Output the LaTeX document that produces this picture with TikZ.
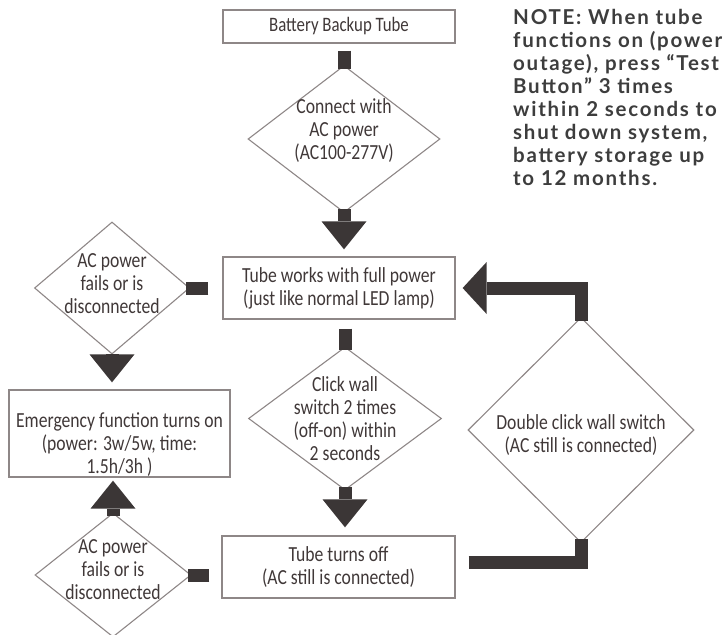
\documentclass[tikz,border=0pt]{standalone}
\usepackage{fontspec}
\usetikzlibrary{shapes.geometric}
\usetikzlibrary{arrows.meta}

\newfontfamily\flowfont[FakeStretch=0.82]{Carlito}
\newfontfamily\notefont[LetterSpace=8.5]{Lato}

\definecolor{boxline}{HTML}{8E8787}
\definecolor{barcol}{HTML}{3B3636}
\definecolor{txtcol}{HTML}{403838}
\definecolor{notecol}{HTML}{3D3D3D}

\begin{document}
\begin{tikzpicture}[x=1pt,y=-1pt,
 box/.style={draw=boxline, line width=1.3pt, rectangle, inner sep=0pt, align=center, text=txtcol, font=\flowfont\fontsize{21.5}{23}\selectfont},
 dia/.style={draw=boxline, line width=1.1pt, diamond, inner sep=0pt},
 txt/.style={align=center, text=txtcol, inner sep=0pt, font=\flowfont\fontsize{21.5}{23}\selectfont},
 bar/.style={draw=barcol, line width=13pt},
 flow/.style={bar, -{Triangle[width=45pt,length=28pt,line width=0pt]}},
 sideflow/.style={bar, -{Triangle[width=52pt,length=24pt,line width=0pt]}}]

\useasboundingbox (0,0) rectangle (724,635);

\node[box, minimum width=232pt, minimum height=33pt, font=\flowfont\fontsize{20.5}{22}\selectfont] (tube) at (339,26.5) {Battery Backup Tube};

\node[dia, minimum width=192pt, minimum height=147pt, label={[txt,yshift=8pt]center:{Connect with\\AC power\\(AC100-277V)}}] (acin) at (344,139) {};

\node[box, minimum width=232pt, minimum height=62pt] (works) at (339,288) {Tube works with full power\\(just like normal LED lamp)};

\node[dia, minimum width=155pt, minimum height=132pt, label={[txt,yshift=4pt]center:{AC power\\fails or is\\disconnected}}] (fail1) at (112,288) {};

\node[box, minimum width=221pt, minimum height=87pt, label={[txt,yshift=-11.5pt]center:{Emergency function turns on\\(power: 3w/5w, time:\\1.5h/3h )}}] (emerg) at (119.5,433.5) {};

\node[dia, minimum width=193pt, minimum height=143pt, label={[txt]center:{Click wall\\switch 2 times\\(off-on) within\\2 seconds}}] (click) at (345,418.5) {};

\node[box, minimum width=233pt, minimum height=62pt] (off) at (338.5,567) {Tube turns off\\(AC still is connected)};

\node[dia, minimum width=156pt, minimum height=124pt, label={[txt,yshift=5pt]center:{AC power\\fails or is\\disconnected}}] (fail2) at (113,575) {};

\node[dia, minimum width=226pt, minimum height=225pt, label={[txt,yshift=-5pt]center:{Double click wall switch\\(AC still is connected)}}] (dbl) at (581,430) {};

\node[anchor=north west, align=left, inner sep=0pt, text=notecol, font=\notefont\bfseries\fontsize{20.5}{23}\selectfont] (note) at (513,9) {NOTE: When tube\\functions on (power\\outage), press “Test\\Button” 3 times\\within 2 seconds to\\shut down system,\\battery storage up\\to 12 months.};

\draw[bar, shorten <=7pt, shorten >=-4pt] (tube.south -| acin.north) -- (acin.north);

\draw[flow, shorten <=-4pt, shorten >=7pt] (acin.south) -- (acin.south |- works.north);

\draw[bar, shorten <=14pt, shorten >=-4pt] (works.west) -- (fail1.east);

\draw[flow, shorten <=-4pt, shorten >=7pt] (fail1.south) -- (fail1.south |- emerg.north);

\draw[flow, shorten <=-4pt, shorten >=3pt] (fail2.north) -- (fail2.north |- emerg.south);

\draw[bar, shorten <=12pt, shorten >=-4pt] (fail2.east -| off.west) -- (fail2.east);

\draw[bar, shorten <=9pt, shorten >=-4pt] (works.south -| click.north) -- (click.north);

\draw[flow, shorten <=-4pt, shorten >=8pt] (click.south) -- (click.south |- off.north);

\draw[bar, shorten <=13pt, shorten >=-4pt] ([yshift=5pt]off.east) -| (dbl.south);

\draw[sideflow, shorten <=-4pt, shorten >=7pt] (dbl.north) |- (works.east);

\end{tikzpicture}
\end{document}
